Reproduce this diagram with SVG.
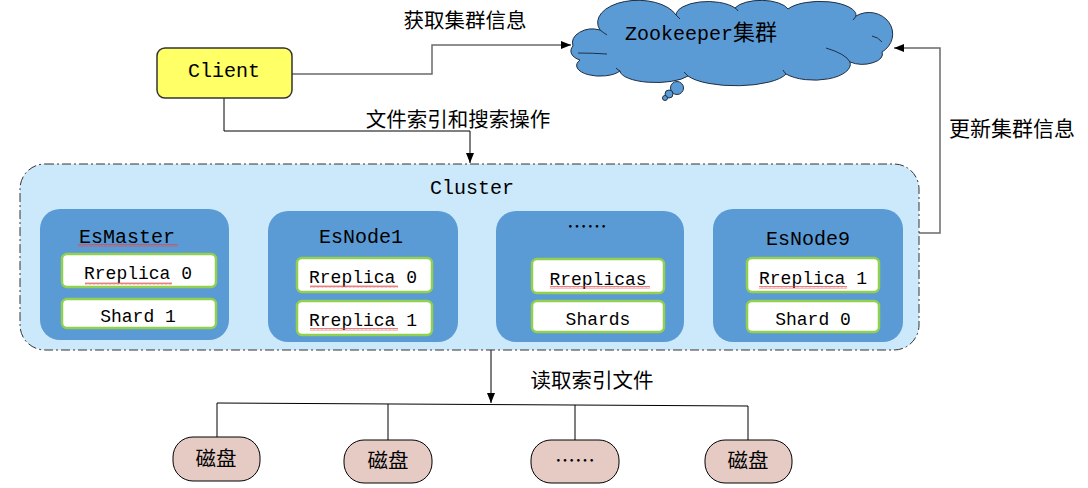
<svg xmlns="http://www.w3.org/2000/svg" width="1088" height="488" viewBox="0 0 1088 488">
<defs>
<marker id="arr" markerUnits="userSpaceOnUse" markerWidth="10" markerHeight="8" refX="10" refY="4" orient="auto">
<path d="M0,0 L10,4 L0,8 z" fill="#000"/>
</marker>
<pattern id="wave" patternUnits="userSpaceOnUse" width="4" height="3">
<path d="M0,2.5 L1,0.5 L2,2.5 L3,0.5 L4,2.5" fill="none" stroke="#e04848" stroke-width="0.7"/>
</pattern>
<style>
.mono{font-family:"Liberation Mono","DejaVu Sans Mono",monospace;fill:#000}
.cjk{font-family:"Noto Sans CJK SC","Noto Sans",sans-serif;fill:#000}
.node{fill:#5b9bd5}
.inner{fill:#fff;stroke:#92d050;stroke-width:2.5}
.disk{fill:#e6cbc4;stroke:#000;stroke-width:1}
.ln{fill:none;stroke:#000;stroke-width:1}
.gl{fill:none;stroke:#6a6a6a;stroke-width:1.5}
.wv{fill:url(#wave)}
</style>
</defs>
<rect width="1088" height="488" fill="#fff"/>

<g id="connectors">
<path class="gl" d="M292,74 H432 V45 H571" marker-end="url(#arr)"/>
<path class="ln" d="M224,98 V131 H470 V163" marker-end="url(#arr)"/>
<path class="gl" d="M917,233 H940 V48 H894" marker-end="url(#arr)"/>
<path class="ln" d="M491,350 V403" marker-end="url(#arr)"/>
<path class="ln" d="M217,437 V403 L748,406 V440"/>
<path class="ln" d="M388,404 V440"/>
<path class="ln" d="M575,405 V440"/>
<text class="cjk" x="465" y="28" font-size="20.5" text-anchor="middle">获取集群信息</text>
<text class="cjk" x="458" y="127" font-size="20.5" text-anchor="middle">文件索引和搜索操作</text>
<text class="cjk" x="1012" y="136" font-size="21" text-anchor="middle">更新集群信息</text>
<text class="cjk" x="592" y="388" font-size="20.5" text-anchor="middle">读取索引文件</text>
</g>

<g id="client">
<rect x="157" y="48" width="135" height="50" rx="8" fill="#ffff66" stroke="#333" stroke-width="1.5"/>
<text class="mono" x="224" y="77" font-size="20" text-anchor="middle">Client</text>
</g>

<g id="zookeeper">
<path d="M573,46 A20,14 0 0 1 600,30 A40,22 0 0 1 676,15 A32,14 0 0 1 735,8 A28,12 0 0 1 788,9 A36,14 0 0 1 856,16 A22,20 0 0 1 882,52 A20,10 0 0 1 850,62 A36,16 0 0 1 786,74 A52,16 0 0 1 688,76 A36,12 0 0 1 620,71 A22,10 0 0 1 580,60 A16,10 0 0 1 573,46 Z" fill="#5b9bd5" stroke="#1f2f45" stroke-width="1"/>
<path d="M600,30 Q604,33 607,35 M578,53 Q592,53 607,54 M620,71 Q618,70 616,68 M688,76 Q686,74 684,72 M786,74 Q784,72 783,70 M850,62 Q846,54 826,48 M882,42 Q878,37 872,36 M856,16 Q855,18 853,20 M735,8 Q737,9 738,11 M676,15 Q678,17 680,19" fill="none" stroke="#1f2f45" stroke-width="1"/>
<circle cx="677" cy="88" r="6.5" fill="#5b9bd5" stroke="#1f2f45" stroke-width="1"/>
<circle cx="669" cy="94" r="4" fill="#5b9bd5" stroke="#1f2f45" stroke-width="1"/>
<circle cx="665" cy="98" r="2.5" fill="#5b9bd5" stroke="#1f2f45" stroke-width="1"/>
<text x="625" y="40" font-size="20"><tspan class="mono">Zookeeper</tspan><tspan class="cjk" font-size="22">集群</tspan></text>
</g>

<g id="cluster">
<rect x="20" y="164" width="899" height="186" rx="25" fill="#cce9fb" stroke="#333" stroke-width="1" stroke-dasharray="9,3,2,3"/>
<text class="mono" x="472" y="194" font-size="20" text-anchor="middle">Cluster</text>
</g>

<g id="esmaster">
<rect class="node" x="40" y="209" width="189" height="131" rx="20"/>
<text class="mono" x="127" y="243" font-size="20" text-anchor="middle">EsMaster</text>
<rect class="wv" x="78" y="244" width="100" height="3"/>
<rect class="inner" x="62" y="254" width="154" height="33" rx="5"/>
<text class="mono" x="138" y="279" font-size="18" text-anchor="middle">Rreplica 0</text>
<rect class="wv" x="85" y="282" width="87" height="3"/>
<rect class="inner" x="62" y="299" width="154" height="29" rx="5"/>
<text class="mono" x="138" y="322" font-size="18" text-anchor="middle">Shard 1</text>
</g>

<g id="esnode1">
<rect class="node" x="268" y="211" width="190" height="131" rx="20"/>
<text class="mono" x="361" y="243" font-size="20" text-anchor="middle">EsNode1</text>
<rect class="inner" x="297" y="258" width="135" height="34" rx="5"/>
<text class="mono" x="363" y="283" font-size="18" text-anchor="middle">Rreplica 0</text>
<rect class="wv" x="310" y="285" width="88" height="3"/>
<rect class="inner" x="297" y="301" width="135" height="34" rx="5"/>
<text class="mono" x="363" y="326" font-size="18" text-anchor="middle">Rreplica 1</text>
<rect class="wv" x="310" y="328" width="88" height="3"/>
</g>

<g id="esnodes">
<rect class="node" x="496" y="211" width="188" height="131" rx="20"/>
<text class="cjk" x="587" y="234" font-size="20" text-anchor="middle">……</text>
<rect class="inner" x="532" y="259" width="132" height="34" rx="5"/>
<text class="mono" x="598" y="285" font-size="18" text-anchor="middle">Rreplicas</text>
<rect class="wv" x="550" y="286" width="100" height="3"/>
<rect class="inner" x="532" y="301" width="132" height="31" rx="5"/>
<text class="mono" x="598" y="325" font-size="18" text-anchor="middle">Shards</text>
</g>

<g id="esnode9">
<rect class="node" x="713" y="209" width="190" height="133" rx="20"/>
<text class="mono" x="808" y="245" font-size="20" text-anchor="middle">EsNode9</text>
<rect class="inner" x="747" y="258" width="132" height="34" rx="5"/>
<text class="mono" x="813" y="284" font-size="18" text-anchor="middle">Rreplica 1</text>
<rect class="wv" x="759" y="286" width="88" height="3"/>
<rect class="inner" x="747" y="301" width="132" height="31" rx="5"/>
<text class="mono" x="813" y="325" font-size="18" text-anchor="middle">Shard 0</text>
</g>

<g id="disk1">
<rect class="disk" x="173" y="437" width="87" height="44" rx="20"/>
<text class="cjk" x="216" y="466" font-size="20.5" text-anchor="middle">磁盘</text>
</g>
<g id="disk2">
<rect class="disk" x="344" y="440" width="88" height="43" rx="20"/>
<text class="cjk" x="388" y="468" font-size="20.5" text-anchor="middle">磁盘</text>
</g>
<g id="disk3">
<rect class="disk" x="531" y="440" width="88" height="43" rx="20"/>
<text class="cjk" x="575" y="468" font-size="20" text-anchor="middle">……</text>
</g>
<g id="disk4">
<rect class="disk" x="705" y="440" width="87" height="43" rx="20"/>
<text class="cjk" x="748" y="468" font-size="20.5" text-anchor="middle">磁盘</text>
</g>
</svg>
